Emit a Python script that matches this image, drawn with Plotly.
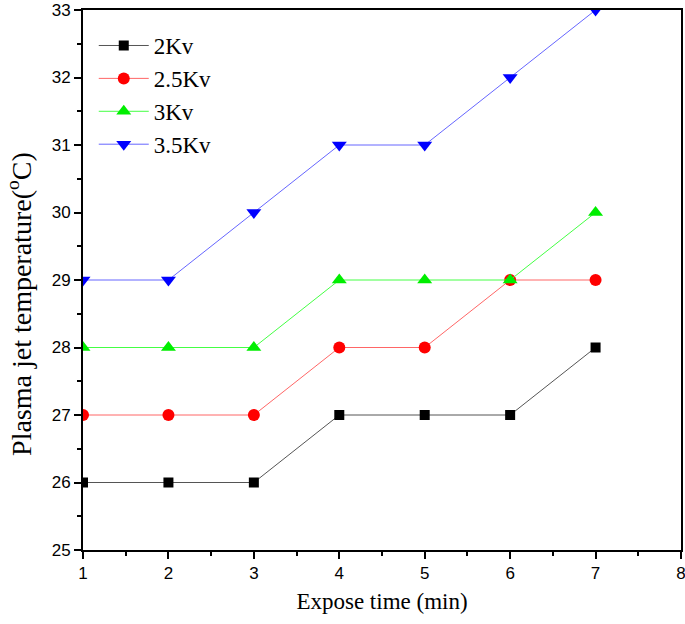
import plotly.graph_objects as go

# expose time (min)
times = [1, 2, 3, 4, 5, 6, 7]

# plasma jet temperature (C) per voltage
temp_2kv = [26, 26, 26, 27, 27, 27, 28]
temp_25kv = [27, 27, 27, 28, 28, 29, 29]
temp_3kv = [28, 28, 28, 29, 29, 29, 30]
temp_35kv = [29, 29, 30, 31, 31, 32, 33]

series_names = ['2Kv', '2.5Kv', '3Kv', '3.5Kv']
series_vals = [temp_2kv, temp_25kv, temp_3kv, temp_35kv]
colors = ['black', 'red', '#00ee00', 'blue']
line_colors = ['#555555', '#ff6666', '#44ff44', '#6666ff']
symbols = ['square', 'circle', 'triangle-up', 'triangle-down']
sizes = [10, 12, 13, 13]

fig = go.Figure()
for name, vals, c, lc, sym, sz in zip(series_names, series_vals, colors, line_colors, symbols, sizes):
    fig.add_trace(
        go.Scatter(x=times, y=vals, name=name, mode='lines+markers',
                   line=dict(color=lc, width=1),
                   marker=dict(color=c, symbol=sym, size=sz))
    )

serif = 'Liberation Serif, Times New Roman, serif'
sans = 'Liberation Sans, Arial, sans-serif'

# y title as annotation so it can sit close to the page edge
fig.add_annotation(
    text='Plasma jet temperature(<sup>o</sup>C)', textangle=-90,
    xref='paper', yref='paper', x=-0.106, y=0.455, xanchor='center', yanchor='middle',
    showarrow=False, font=dict(family=serif, size=28, color='black'),
)

fig.update_layout(
    width=685, height=624,
    margin=dict(l=83, r=4, t=10, b=74),
    paper_bgcolor='white',
    plot_bgcolor='white',
    showlegend=True,
    legend=dict(
        x=0.018, y=0.974, xanchor='left', yanchor='top',
        font=dict(family=serif, size=23, color='black'),
        bgcolor='rgba(0,0,0,0)',
        itemwidth=50,
        tracegroupgap=0,
    ),
    xaxis=dict(
        range=[1, 8], dtick=1, tick0=1, automargin=False, ticklabeloverflow='allow',
        showgrid=False, zeroline=False,
        showline=True, linecolor='black', linewidth=2, mirror=True,
        ticks='outside', ticklen=7, tickwidth=2, tickcolor='black',
        minor=dict(ticks='outside', ticklen=4, tickwidth=2, tickcolor='black', dtick=0.5, showgrid=False),
        tickfont=dict(family=sans, size=17, color='black'),
        title=dict(text='Expose time (min)', font=dict(family=serif, size=23, color='black'), standoff=10),
    ),
    yaxis=dict(
        range=[25, 33], dtick=1, tick0=25, automargin=False, ticklabeloverflow='allow',
        showgrid=False, zeroline=False,
        showline=True, linecolor='black', linewidth=2, mirror=True,
        ticks='outside', ticklen=7, tickwidth=2, tickcolor='black',
        minor=dict(ticks='outside', ticklen=4, tickwidth=2, tickcolor='black', dtick=0.5, showgrid=False),
        tickfont=dict(family=sans, size=17, color='black'),
    ),
)

fig.write_html('out.html', config={'displayModeBar': False},
               post_script="document.body.style.margin='0';")
